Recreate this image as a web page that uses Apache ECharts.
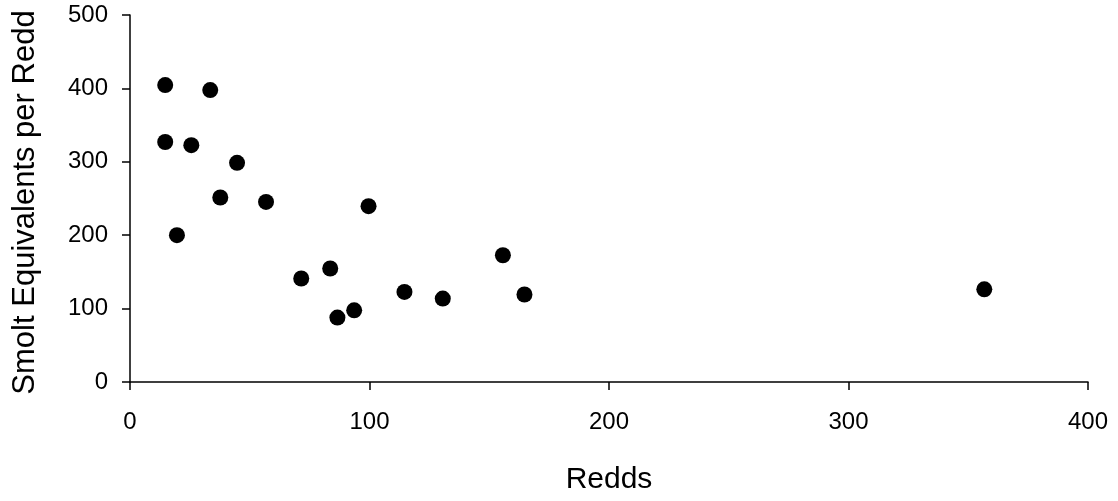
<!DOCTYPE html>
<html>
<head>
<meta charset="utf-8">
<script src="https://cdn.jsdelivr.net/npm/echarts@6/dist/echarts.min.js"></script>
<style>
  html, body { margin: 0; padding: 0; background: #fff; }
  #chart { width: 1118px; height: 501px; }
</style>
</head>
<body>
<div id="chart"></div>
<script>
// redds vs smolt equivalents per redd
const redds = [14.7, 33.5, 14.7, 25.6, 44.7, 37.7, 56.8, 99.6, 19.6,
  71.5, 83.6, 86.6, 93.6, 114.6, 130.6, 155.7, 164.7, 356.7];
const smoltPerRedd = [404.5, 397.7, 327, 322.7, 298.6, 251.4, 245.4, 239.5, 200,
  141, 154.6, 87.8, 97.7, 122.7, 113.7, 172.7, 119.2, 126.3];
const xTicks = [0, 100, 200, 300, 400];
const yTicks = [0, 100, 200, 300, 400, 500];

const points = redds.map((r, i) => [r, smoltPerRedd[i]]);
const font = "'Liberation Sans', Arial, sans-serif";

const chart = echarts.init(document.getElementById("chart"));
chart.setOption({
  animation: false,
  grid: { left: 130, right: 30, top: 15, bottom: 119 },
  xAxis: {
    type: "value",
    min: xTicks[0], max: xTicks[xTicks.length - 1], interval: 100,
    name: "Redds", nameLocation: "middle", nameGap: 83,
    nameTextStyle: { fontFamily: font, fontSize: 30, color: "#000" },
    axisLine: { lineStyle: { color: "#000", width: 1.5 } },
    axisTick: { length: 8, lineStyle: { color: "#000", width: 1.5 } },
    axisLabel: { fontFamily: font, fontSize: 24, color: "#000", margin: 28 },
    splitLine: { show: false }
  },
  yAxis: {
    type: "value",
    min: yTicks[0], max: yTicks[yTicks.length - 1], interval: 100,
    name: "Smolt Equivalents per Redd", nameLocation: "middle", nameGap: 89,
    nameTextStyle: { fontFamily: font, fontSize: 31, color: "#000", padding: [0, 8, 0, 0] },
    axisLine: { show: true, lineStyle: { color: "#000", width: 1.5 } },
    axisTick: { show: true, length: 8, lineStyle: { color: "#000", width: 1.5 } },
    axisLabel: { fontFamily: font, fontSize: 24, color: "#000", margin: 22 },
    splitLine: { show: false }
  },
  series: [{
    type: "scatter",
    data: points,
    symbol: "circle",
    symbolSize: 16,
    itemStyle: { color: "#000", opacity: 1 }
  }]
});
</script>
</body>
</html>
